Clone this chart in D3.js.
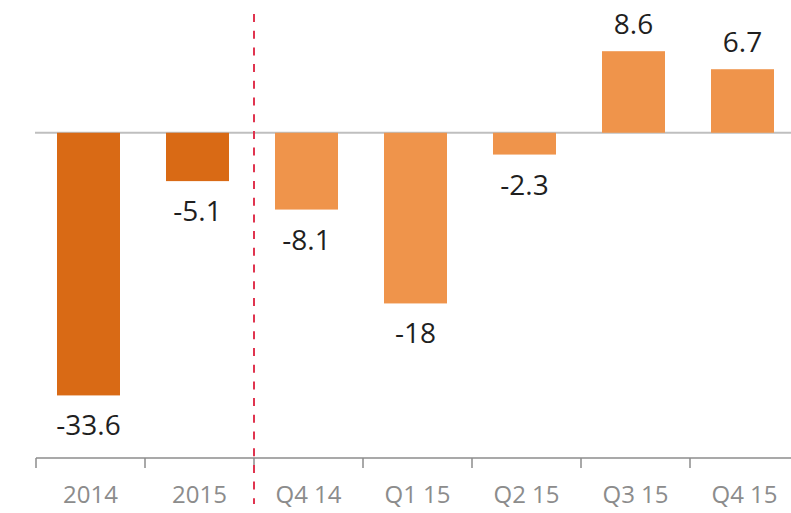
<!DOCTYPE html>
<html lang="en">
<head>
    <meta charset="UTF-8">
    <title>Change by period</title>
    <script src="https://cdn.jsdelivr.net/npm/d3@7"></script>
    <style>
        body{
            margin: 0;
            background: white;
            font-family: "Open Sans", sans-serif;
        }
        .xAxis text{
            font-family: "Open Sans", sans-serif;
            font-size: 24px;
            fill: #8c8c8c;
        }
        .xAxis .tick line, .xAxis path{
            stroke: #8c8c8c;
            stroke-width: 1.5;
        }
        .valueLabel{
            font-size: 28px;
            fill: #1f1f1f;
        }
    </style>
</head>
<body>
<svg id="main" width="791" height="513"></svg>
<script>
    const width = 791, height = 513
    const margin = {left: 36, right: -8, axisY: 458}

    // categories, bar lengths as drawn and the printed labels
    const periods = ['2014', '2015', 'Q4 14', 'Q1 15', 'Q2 15', 'Q3 15', 'Q4 15']
    const barValues = [-27.7, -5.1, -8.1, -18, -2.3, 8.6, 6.7]
    const labels = ['-33.6', '-5.1', '-8.1', '-18', '-2.3', '8.6', '6.7']
    const annual = ['2014', '2015']

    const svg = d3.select('svg#main')

    const xScale = d3.scaleBand()
        .domain(periods)
        .range([margin.left, width - margin.right])
        .paddingInner(0)
        .paddingOuter(0)

    const yScale = d3.scaleLinear()
        .domain([-34.3, 14])
        .range([margin.axisY, 0])

    const barW = 63

    // zero line
    svg.append('line')
        .attr('x1', margin.left - 1).attr('x2', width)
        .attr('y1', yScale(0)).attr('y2', yScale(0))
        .attr('stroke', '#bfbfbf').attr('stroke-width', 2)

    // bars
    svg.append('g').selectAll('rect')
        .data(periods)
        .enter().append('rect')
        .attr('x', d => xScale(d) + xScale.bandwidth() / 2 - barW / 2 - 2)
        .attr('width', barW)
        .attr('y', (d, i) => yScale(Math.max(0, barValues[i])))
        .attr('height', (d, i) => Math.abs(yScale(barValues[i]) - yScale(0)))
        .attr('fill', d => annual.includes(d) ? '#d96a15' : '#ef944b')

    // value labels
    svg.append('g').selectAll('text')
        .data(periods)
        .enter().append('text')
        .attr('class', 'valueLabel')
        .attr('text-anchor', 'middle')
        .attr('x', d => xScale(d) + xScale.bandwidth() / 2 - 2)
        .attr('y', (d, i) => barValues[i] >= 0 ? yScale(barValues[i]) - 17 : yScale(barValues[i]) + 40)
        .text((d, i) => labels[i])

    // bottom axis with ticks between categories
    const xAxis = d3.axisBottom(xScale).tickSize(0).tickPadding(28)
    const xAxisGroup = svg.append('g')
        .attr('class', 'xAxis')
        .attr('transform', `translate(0,${margin.axisY})`)
        .call(xAxis)
    xAxisGroup.select('path').attr('d', `M${margin.left},0H${width}`)
    xAxisGroup.selectAll('.tick line').remove()
    xAxisGroup.selectAll('.sep')
        .data(periods)
        .enter().append('line')
        .attr('x1', d => xScale(d)).attr('x2', d => xScale(d))
        .attr('y1', 0).attr('y2', 10)
        .attr('stroke', '#8c8c8c').attr('stroke-width', 1.5)

    // dashed separator between annual and quarterly figures
    svg.append('line')
        .attr('x1', xScale('Q4 14')).attr('x2', xScale('Q4 14'))
        .attr('y1', 14).attr('y2', 504)
        .attr('stroke', '#e0344f').attr('stroke-width', 2)
        .attr('stroke-dasharray', '8,8.7')
</script>
</body>
</html>
